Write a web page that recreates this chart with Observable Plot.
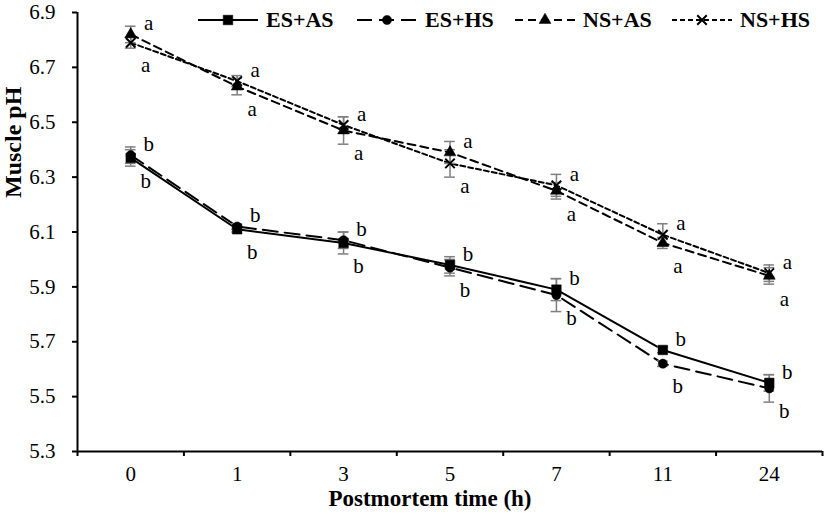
<!DOCTYPE html>
<html><head><meta charset="utf-8">
<script src="https://cdn.jsdelivr.net/npm/d3@7"></script>
<script src="https://cdn.jsdelivr.net/npm/@observablehq/plot@0.6"></script>
<style>
body{margin:0;background:#fff;}
#wrap{position:relative;width:827px;height:519px;font-family:"Liberation Serif","Times New Roman",serif;}
.item{position:absolute;top:8px;height:24px;display:flex;align-items:center;font-weight:bold;font-size:22px;color:#000;white-space:nowrap;}
.item svg{margin-right:8px;}
</style></head><body><div id="wrap"><div id="chart"></div></div>
<script>
// categories and tick labels
const times = ["0", "1", "3", "5", "7", "11", "24"];
const yTicks = [5.3, 5.5, 5.7, 5.9, 6.1, 6.3, 6.5, 6.7, 6.9];
const seriesNames = ["ES+AS", "ES+HS", "NS+AS", "NS+HS"];
// series means
const esAS = [6.37, 6.11, 6.06, 5.98, 5.89, 5.67, 5.55];
const esHS = [6.38, 6.12, 6.07, 5.97, 5.87, 5.62, 5.53];
const nsAS = [6.82, 6.63, 6.47, 6.39, 6.25, 6.06, 5.94];
const nsHS = [6.79, 6.65, 6.49, 6.35, 6.27, 6.09, 5.95];
// error bars (±)
const esASerr = [0.03, 0.01, 0.04, 0.03, 0.04, 0.01, 0.03];
const esHSerr = [0.03, 0.01, 0.03, 0.03, 0.06, 0.01, 0.05];
const nsASerr = [0.03, 0.03, 0.05, 0.04, 0.03, 0.02, 0.03];
const nsHSerr = [0.02, 0.02, 0.03, 0.05, 0.04, 0.04, 0.03];
// significance letters
const esLetters = ["b", "b", "b", "b", "b", "b", "b"];
const nsLetters = ["a", "a", "a", "a", "a", "a", "a"];
const xTitle = "Postmortem time (h)";
const yTitle = "Muscle pH";

const values = {"ES+AS": esAS, "ES+HS": esHS, "NS+AS": nsAS, "NS+HS": nsHS};
const errs = {"ES+AS": esASerr, "ES+HS": esHSerr, "NS+AS": nsASerr, "NS+HS": nsHSerr};
const style = {
  "ES+AS": {dash: null, symbol: "square", r: 5.4, fill: "black"},
  "ES+HS": {dash: "15,7", symbol: "circle", r: 4.6, fill: "black"},
  "NS+AS": {dash: "8,5", symbol: "triangle", r: 4.4, fill: "black"},
  "NS+HS": {dash: "5,3", symbol: "times", r: 4.4, fill: "none"}
};
const rows = seriesNames.flatMap(s => values[s].map((v, i) => ({series: s, i, value: v, err: errs[s][i]})));
const pairs = [
  {a: esAS, b: esHS, letters: esLetters},
  {a: nsAS, b: nsHS, letters: nsLetters}
];
const upperLabels = pairs.flatMap(p => times.map((t, i) => ({i, value: Math.max(p.a[i], p.b[i]), text: p.letters[i]})));
const lowerLabels = pairs.flatMap(p => times.map((t, i) => ({i, value: Math.min(p.a[i], p.b[i]), text: p.letters[i]})));

const capHalf = 0.05;
const marks = [];
for (const s of seriesNames) {
  const d = rows.filter(r => r.series === s);
  marks.push(Plot.line(d, {x: "i", y: "value", stroke: "black", strokeWidth: 2, strokeDasharray: style[s].dash}));
}
marks.push(
  Plot.ruleX(rows, {x: "i", y1: d => d.value - d.err, y2: d => d.value + d.err, stroke: "#7f7f7f", strokeWidth: 1.5}),
  Plot.ruleY(rows, {y: d => d.value + d.err, x1: d => d.i - capHalf, x2: d => d.i + capHalf, stroke: "#7f7f7f", strokeWidth: 1.5}),
  Plot.ruleY(rows, {y: d => d.value - d.err, x1: d => d.i - capHalf, x2: d => d.i + capHalf, stroke: "#7f7f7f", strokeWidth: 1.5})
);
for (const s of seriesNames) {
  const d = rows.filter(r => r.series === s);
  const st = style[s];
  marks.push(Plot.dot(d, {x: "i", y: "value", symbol: () => st.symbol, r: st.r,
    fill: st.fill === "none" ? "none" : "black", stroke: "black", strokeWidth: st.fill === "none" ? 2 : 0.5}));
}
marks.push(
  Plot.text(upperLabels, {x: "i", y: "value", text: "text", dx: 18, dy: -11, fontSize: 21}),
  Plot.text(lowerLabels, {x: "i", y: "value", text: "text", dx: 15, dy: 23, fontSize: 21}),
  Plot.ruleX([-0.5], {stroke: "black", strokeWidth: 2}),
  Plot.ruleY([yTicks[0]], {stroke: "black", strokeWidth: 2}),
  Plot.axisY(yTicks, {tickSize: 5, tickPadding: 17, strokeWidth: 2, tickFormat: d3.format(".1f"), fontSize: 21, label: null}),
  Plot.axisX(d3.range(-0.5, times.length, 1), {tickSize: 5, strokeWidth: 2, tickFormat: () => "", label: null}),
  Plot.axisX(d3.range(times.length), {tickSize: 0, tickPadding: 15, tickFormat: i => times[i], fontSize: 21, label: null}),
  Plot.text([xTitle], {frameAnchor: "bottom", dy: 54, dx: -20, fontSize: 23, fontWeight: "bold"}),
  Plot.text([yTitle], {frameAnchor: "left", rotate: -90, dx: -64, dy: -34, fontSize: 24, fontWeight: "bold"})
);

const chart = Plot.plot({
  width: 827, height: 519,
  marginLeft: 77, marginRight: 5, marginTop: 12, marginBottom: 68,
  style: {fontFamily: "Liberation Serif", fontSize: "21px", color: "black", background: "white", overflow: "visible"},
  x: {domain: [-0.5, times.length - 0.5], axis: null},
  y: {domain: [yTicks[0], yTicks[yTicks.length - 1]], axis: null},
  marks
});
document.getElementById("chart").appendChild(chart);

// legend
const wrap = document.getElementById("wrap");
const legendLeft = [198, 357, 515, 672];
const symbolPath = {square: d3.symbolSquare, circle: d3.symbolCircle, triangle: d3.symbolTriangle, times: d3.symbolTimes};
seriesNames.forEach((s, k) => {
  const st = style[s];
  const item = document.createElement("div");
  item.className = "item";
  item.style.left = legendLeft[k] + "px";
  const w = 60, h = 24;
  const svg = d3.create("svg").attr("width", w).attr("height", h);
  svg.append("line").attr("x1", 0).attr("x2", w).attr("y1", h / 2).attr("y2", h / 2)
    .attr("stroke", "black").attr("stroke-width", 2).attr("stroke-dasharray", st.dash);
  svg.append("path").attr("transform", `translate(${w / 2},${h / 2})`)
    .attr("d", d3.symbol(symbolPath[st.symbol], st.r * st.r * Math.PI)())
    .attr("fill", st.fill === "none" ? "none" : "black").attr("stroke", "black")
    .attr("stroke-width", st.fill === "none" ? 2 : 0.5);
  item.appendChild(svg.node());
  const span = document.createElement("span");
  span.textContent = s;
  item.appendChild(span);
  wrap.appendChild(item);
});
</script></body></html>
